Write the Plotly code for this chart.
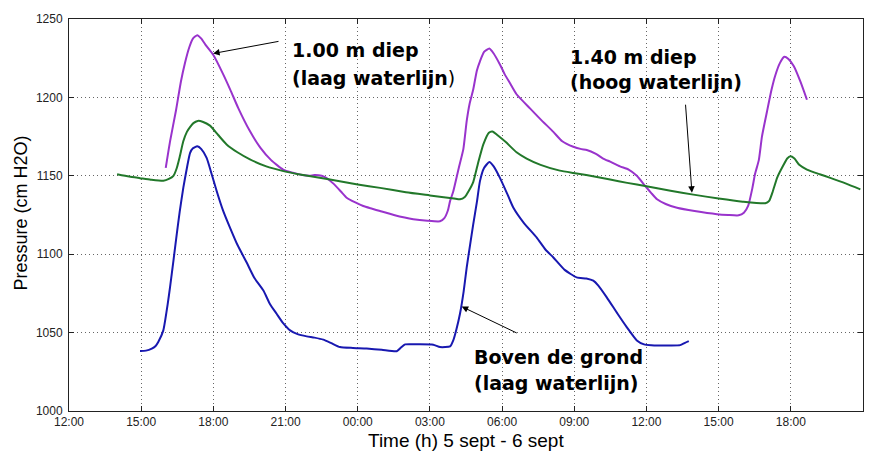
import plotly.graph_objects as go

# ---------------- data (hours after 12:00 on 5 sept, pressure in cm H2O) ----------------
purple_t = [4.02, 4.2, 4.45, 4.65, 4.82, 5.0, 5.15, 5.33, 5.5, 5.7, 6.0, 6.4, 6.7, 7.04, 7.5,
            7.95, 8.4, 8.9, 9.3, 9.7, 10.0, 10.2, 10.5, 10.71, 10.99, 11.3, 11.54, 11.9, 12.23,
            12.6, 12.93, 13.5, 14.31, 14.9, 15.42, 15.6, 15.75, 15.84, 15.97, 16.2, 16.39, 16.53,
            16.65, 16.8, 16.95, 17.08, 17.25, 17.47, 17.65, 17.91, 18.1, 18.33, 18.6, 19.16,
            19.6, 20.13, 20.5, 20.96, 21.3, 21.52, 21.9, 22.2, 22.49, 22.9, 23.26, 23.6, 23.95,
            24.2, 24.44, 24.8, 25.27, 26.0, 26.93, 27.4, 27.83, 28.05, 28.23, 28.4, 28.51, 28.67,
            28.8, 29.01, 29.2, 29.36, 29.55, 29.73, 29.9, 30.12, 30.4, 30.67]
purple_v = [1155, 1172, 1192, 1210, 1222, 1232, 1237.5, 1239.7, 1237.5, 1233, 1227, 1215, 1205,
            1193, 1179, 1168, 1160, 1154, 1152, 1150.5, 1150, 1150.5, 1150, 1148.5, 1145, 1140,
            1136, 1133, 1130.7, 1129, 1127.5, 1125, 1122.3, 1121.3, 1121, 1123, 1128, 1134, 1140,
            1155, 1167, 1185, 1196, 1205, 1217, 1223, 1229, 1231.2, 1228, 1221, 1215, 1209, 1202,
            1193, 1186, 1178, 1172, 1168.5, 1167, 1166.5, 1164, 1161, 1159, 1156, 1154, 1150,
            1143.5, 1139, 1135, 1132, 1129.6, 1127.5, 1125.5, 1125, 1124.8, 1126.5, 1131, 1142,
            1151, 1160, 1175, 1191, 1205, 1214.3, 1222, 1225.9, 1224.5, 1220, 1210, 1198.5]

green_t = [2.0, 2.5, 2.95, 3.4, 3.92, 4.15, 4.34, 4.48, 4.6, 4.75, 4.9, 5.03, 5.17, 5.35, 5.55,
           5.86, 6.2, 6.55, 7.0, 7.52, 8.2, 8.91, 9.6, 10.85, 12.0, 12.93, 14.0, 15.0, 16.0,
           16.25, 16.45, 16.6, 16.8, 17.0, 17.22, 17.45, 17.6, 17.8, 18.19, 18.6, 19.02, 19.6,
           20.4, 20.96, 21.5, 22.49, 23.2, 24.0, 25.0, 25.95, 27.0, 28.0, 28.94, 29.1, 29.25,
           29.43, 29.7, 29.85, 29.98, 30.15, 30.35, 30.67, 31.2, 31.64, 32.3, 32.89]
green_v = [1151, 1149.5, 1148.5, 1147.5, 1146.8, 1148, 1150, 1155, 1162, 1172, 1178, 1181,
           1183.6, 1185, 1184.5, 1182, 1176, 1170, 1165, 1160.5, 1156, 1153, 1150.8, 1147.6,
           1144.5, 1142.3, 1139.5, 1137.5, 1135.5, 1135, 1136.5, 1140, 1146, 1158, 1170, 1177.5,
           1178.3, 1176, 1171, 1165, 1161, 1157, 1153.3, 1151.8, 1150.5, 1147.6, 1145.5, 1143.3,
           1140.5, 1138, 1135.5, 1133.5, 1132.5, 1134, 1140, 1148.7, 1157, 1161, 1162.4, 1161,
           1157, 1154, 1151, 1148.7, 1145, 1141.3]

blue_t = [2.95, 3.2, 3.44, 3.6, 3.71, 3.92, 4.1, 4.2, 4.34, 4.48, 4.6, 4.75, 4.9, 5.03, 5.15,
          5.33, 5.5, 5.72, 5.95, 6.14, 6.4, 6.69, 7.0, 7.39, 7.7, 8.08, 8.35, 8.63, 8.9, 9.19,
          9.5, 9.88, 10.2, 10.57, 10.9, 11.26, 11.8, 12.37, 13.0, 13.62, 13.8, 13.97, 14.5,
          15.14, 15.42, 15.84, 15.97, 16.1, 16.25, 16.4, 16.53, 16.67, 16.8, 16.95, 17.08,
          17.25, 17.47, 17.65, 17.91, 18.2, 18.47, 18.9, 19.44, 19.8, 20.13, 20.6, 21.1, 21.5,
          21.79, 22.0, 22.35, 22.8, 23.18, 23.6, 23.9, 24.2, 25.0, 25.4, 25.6, 25.76]
blue_v = [1038.3, 1038.5, 1039.8, 1041.5, 1044, 1051.4, 1068, 1079, 1095.8, 1113, 1127, 1142.3,
          1155, 1164.5, 1167.5, 1168.8, 1167, 1161.4, 1150, 1140.2, 1128, 1117, 1106, 1094.5,
          1085, 1076.8, 1068.3, 1062, 1056, 1051.4, 1049, 1047.6, 1046.8, 1045.5, 1043.3,
          1040.8, 1040.2, 1039.8, 1039, 1038.1, 1040.5, 1042.5, 1042.5, 1042.3, 1040.8, 1041.2,
          1045, 1052, 1062, 1076, 1091.6, 1106, 1119, 1133, 1146.6, 1155, 1158.8, 1156, 1148.7,
          1139, 1129.6, 1120, 1110.6, 1103, 1097.9, 1090, 1085.2, 1084.5, 1083.1, 1080, 1072.5,
          1062, 1053.5, 1045, 1042.5, 1042, 1041.8, 1042, 1043.5, 1044.6]

x_tick_vals = [0, 3, 6, 9, 12, 15, 18, 21, 24, 27, 30, 33]
x_tick_text = ["12:00", "15:00", "18:00", "21:00", "00:00", "03:00", "06:00", "09:00",
               "12:00", "15:00", "18:00", "21:00"]
y_tick_vals = [1000, 1050, 1100, 1150, 1200, 1250]

# ---------------- figure ----------------
fig = go.Figure()
fig.add_trace(go.Scatter(x=purple_t, y=purple_v, mode="lines",
                         line=dict(color="#9933CC", width=2, shape="spline", smoothing=0.5),
                         name="1.00 m diep"))
fig.add_trace(go.Scatter(x=green_t, y=green_v, mode="lines",
                         line=dict(color="#22782A", width=2, shape="spline", smoothing=0.5),
                         name="1.40 m diep"))
fig.add_trace(go.Scatter(x=blue_t, y=blue_v, mode="lines",
                         line=dict(color="#1818B0", width=2, shape="spline", smoothing=0.5),
                         name="Boven de grond"))

axis_common = dict(showline=True, linecolor="#222", linewidth=1, mirror="allticks",
                   ticks="inside", ticklen=5, tickcolor="#222", showgrid=True,
                   gridcolor="#666", griddash="1px,3px", gridwidth=1, zeroline=False,
                   tickfont=dict(family="Liberation Sans, Arial", size=12, color="#222"))

fig.update_xaxes(range=[0, 33], tickvals=x_tick_vals, ticktext=x_tick_text, **axis_common)
fig.update_yaxes(range=[1000, 1250], tickvals=y_tick_vals, ticklabelstandoff=3, **axis_common)

lab_font = dict(family="DejaVu Sans", size=19, color="black")
ann = []
# text labels (one annotation per line)
for tx, ty, txt in [(9.19, 1230.5, "<b>1.00 m diep</b>"),
                    (9.19, 1212.5, "<b>(laag waterlijn</b>)"),
                    (20.74, 1225.7, "<b>1.40 m diep</b>"),
                    (20.74, 1210.0, "<b>(hoog waterlijn)</b>"),
                    (16.73, 1034.6, "<b>Boven de grond</b>"),
                    (16.73, 1017.8, "<b>(laag waterlijn)</b>")]:
    ann.append(dict(x=tx, y=ty, xref="x", yref="y", text=txt, showarrow=False,
                    xanchor="left", yanchor="middle", font=lab_font))
# arrows (tip, tail in data coordinates)
for hx, hy, tx, ty in [(5.99, 1228, 8.77, 1235.9),
                       (25.89, 1139.2, 25.62, 1196.3),
                       (16.32, 1066.6, 18.67, 1049.3)]:
    ann.append(dict(x=hx, y=hy, ax=tx, ay=ty, xref="x", yref="y", axref="x", ayref="y",
                    text="", showarrow=True, arrowhead=2, arrowsize=1.3, arrowwidth=1,
                    arrowcolor="black", standoff=0, startstandoff=0))
# axis titles
ann.append(dict(x=-0.0605, y=0.506, xref="paper", yref="paper", text="Pressure (cm H2O)",
                textangle=-90, showarrow=False, xanchor="center", yanchor="middle",
                font=dict(family="Liberation Sans, Arial", size=18, color="black")))
ann.append(dict(x=0.5, y=-0.076, xref="paper", yref="paper", text="Time (h) 5 sept - 6 sept",
                showarrow=False, xanchor="center", yanchor="middle",
                font=dict(family="Liberation Sans, Arial", size=19, color="black")))

fig.update_layout(width=877, height=455, margin=dict(l=69, r=14, t=17, b=44),
                  plot_bgcolor="white", paper_bgcolor="white", showlegend=False,
                  annotations=ann)

fig.write_html("out.html")
